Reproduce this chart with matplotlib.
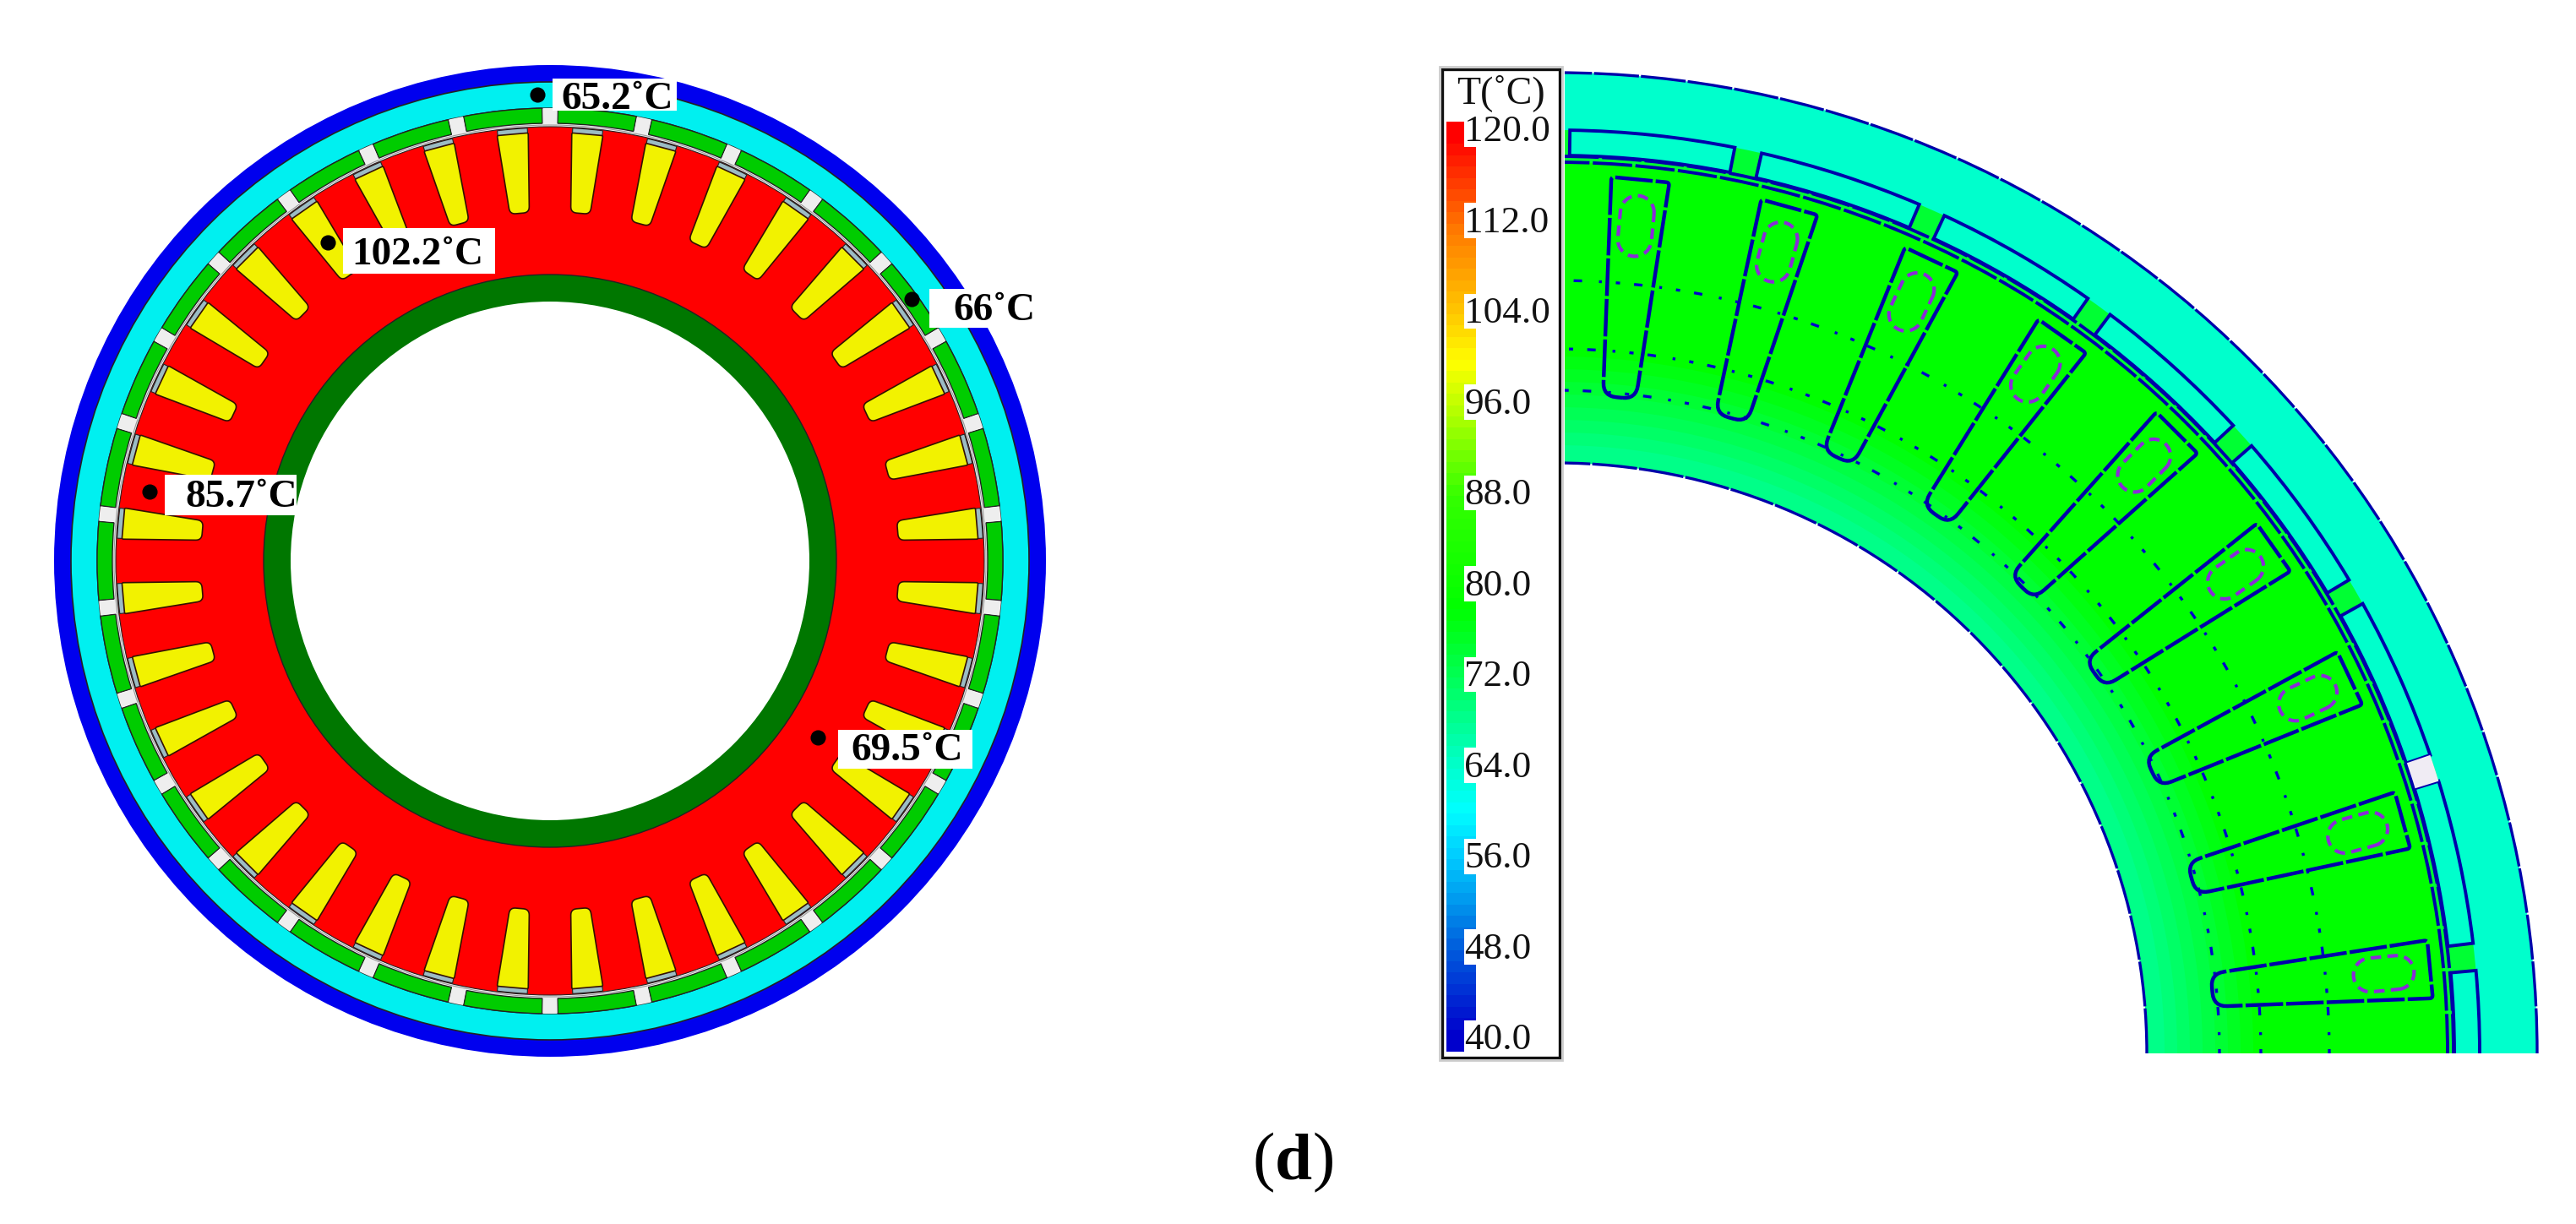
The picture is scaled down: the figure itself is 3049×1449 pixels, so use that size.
import matplotlib
matplotlib.use("Agg")
import matplotlib.pyplot as plt
import numpy as np
from matplotlib.colors import LinearSegmentedColormap
from matplotlib.patches import Arc, Circle, Polygon, Rectangle, Wedge

plt.rcParams["font.family"] = ["Liberation Serif", "DejaVu Serif"]

# temperature scale
tick_temps = [120, 112, 104, 96, 88, 80, 72, 64, 56, 48, 40]
stop_temps = [40, 48, 52, 56, 60, 64, 72, 78, 88, 96, 100, 104, 112, 120]
stop_colors = ["#0000CC", "#0060DD", "#0099EE", "#00CCFF", "#00FFFF", "#00FFCC", "#00FF55", "#00FF00",
               "#33FF00", "#BBFF00", "#FFFF00", "#FFCC00", "#FF7700", "#FF0000"]

# left panel, temperature probes (pixels)
probe_x = [636, 388, 1079, 177, 968]
probe_y = [112, 287, 354, 582, 873]
probe_text = ["65.2˚C", "102.2˚C", "66˚C", "85.7˚C", "69.5˚C"]
text_x = [664, 416, 1128, 219, 1007]
text_y = [129, 313, 379, 600, 900]
box_x = [654, 406, 1100, 195, 992]
box_y = [93, 270, 342, 562, 864]
box_w = [147, 180, 80, 156, 159]
box_h = [38, 54, 46, 48, 46]

# left panel radii (pixels)
r_blue, r_cyan, r_seg_out, r_seg_in, r_red = 587, 567, 536, 518, 514
r_ring_out, r_ring_in = 339, 307
slot_r0, slot_r1 = 413, 507
slot_angles = np.arange(5, 360, 10)
gap_angles = np.arange(6, 366, 12)

# right panel radii (pixels)
rr_outer, rr_seg_out, rr_seg_in, rr_rotor, rr_inner = 1161, 1093, 1063, 1055, 699
rr_dots = [785, 834, 915]
rr_slot0, rr_slot1 = 780, 1039
rr_slot_angles = [5.5, 15.4, 25.3, 35.2, 45, 54.8, 64.7, 74.6, 84.5]
rr_gap_angles = [6, 18, 30, 42, 54, 66, 78, 90]
rr_grad = [1055, 825, 810, 795, 780, 765, 750, 735, 720]
rr_grad_col = ["#00FF00", "#00FF11", "#00FF22", "#00FF33", "#00FF44", "#00FF55", "#00FF66", "#00FF77", "#00FF88"]


def slot_outline(cx, cy, ang, r0, r1, w0, w1, rc0, rc1):
    # tapered slot with rounded corners
    corners = [(r0, -w0, rc0), (r1, -w1, rc1), (r1, w1, rc1), (r0, w0, rc0)]
    pts = []
    n = len(corners)
    for i in range(n):
        p = np.array(corners[i][:2], float)
        a = np.array(corners[i - 1][:2], float)
        b = np.array(corners[(i + 1) % n][:2], float)
        rc = corners[i][2]
        p0 = p + (a - p) / np.linalg.norm(a - p) * rc
        p2 = p + (b - p) / np.linalg.norm(b - p) * rc
        for t in np.linspace(0, 1, 8):
            pts.append((1 - t) ** 2 * p0 + 2 * t * (1 - t) * p + t ** 2 * p2)
    pts = np.array(pts)
    t = np.radians(ang)
    x = cx + pts[:, 0] * np.cos(t) - pts[:, 1] * np.sin(t)
    y = cy + pts[:, 0] * np.sin(t) + pts[:, 1] * np.cos(t)
    return np.column_stack([x, y])


W, H = 3049, 1449
fig = plt.figure(figsize=(W / 100, H / 100), dpi=100, facecolor="white")

# left panel
ax = fig.add_axes([0, 0, 1690 / W, 1])
ax.set_xlim(0, 1690)
ax.set_ylim(H, 0)
ax.axis("off")
CX, CY = 651, 664
edge = "#222222"
ax.add_patch(Circle((CX, CY), r_blue, fc="#0000EE", ec="none"))
ax.add_patch(Circle((CX, CY), r_cyan, fc="#00F0F0", ec=edge, lw=1.2))
ax.add_patch(Circle((CX, CY), r_seg_out, fc="white", ec=edge, lw=1))
for a in gap_angles:
    ax.add_patch(Wedge((CX, CY), r_seg_out, a + 1.0, a + 11.0, width=r_seg_out - r_seg_in, fc="#00CC00", ec=edge, lw=1))
    ax.add_patch(Wedge((CX, CY), r_seg_out, a - 0.9, a + 0.9, width=r_seg_out - r_red, fc="#EEEEEE", ec="none"))
ax.add_patch(Circle((CX, CY), r_red + 2, fc="none", ec="#999999", lw=0.8))
ax.add_patch(Circle((CX, CY), r_red, fc="#FF0000", ec=edge, lw=0.8))
for a in slot_angles:
    ax.add_patch(Wedge((CX, CY), slot_r1 + 6, a - 2.0, a + 2.0, width=8, fc="#9CBCC4", ec=edge, lw=0.8))
    ax.add_patch(Polygon(slot_outline(CX, CY, a, slot_r0, slot_r1, 11.5, 18.5, 7, 2), fc="#F2F200", ec="#331100", lw=1.2))
ax.add_patch(Circle((CX, CY), r_ring_out, fc="#007700", ec=edge, lw=1))
ax.add_patch(Circle((CX, CY), r_ring_in, fc="white", ec="none"))

for i in range(len(probe_text)):
    ax.add_patch(Rectangle((box_x[i], box_y[i]), box_w[i], box_h[i], fc="white", ec="none"))
    ax.text(text_x[i], text_y[i], probe_text[i], fontsize=34, fontweight="bold", ha="left", va="baseline")
ax.scatter(probe_x, probe_y, s=170, c="black", linewidths=0, zorder=5)

# colour bar
fig.add_artist(Rectangle((1704 / W, 1 - 1255 / H), 145 / W, 1176 / H, transform=fig.transFigure, fc="none", ec="#CCCCCC", lw=2))
cb = fig.add_axes([1707 / W, 1 - 1252 / H, 139 / W, 1170 / H])
cb.set_xlim(1707, 1846)
cb.set_ylim(40 - 24 / 13.44, 120 + 71 / 13.44)
cb.set_xticks([])
cb.set_yticks([])
for s in cb.spines.values():
    s.set_linewidth(2.4)
    s.set_color("#111111")
cmap = LinearSegmentedColormap.from_list("temp", [((t - 40) / 80, c) for t, c in zip(stop_temps, stop_colors)], N=80)
edges = np.arange(38.7, 120.8, 1.0)
cb.pcolormesh([1712, 1747], edges, (edges[:-1] + 0.5).reshape(-1, 1), cmap=cmap, vmin=40, vmax=120)
for t in tick_temps:
    cb.add_patch(Rectangle((1733, t - 1.6), 40, 3.1, fc="white", ec="none", zorder=3))
    cb.text(1733, t - 0.25, "%.1f" % t, fontsize=32.5, ha="left", va="center", color="#111111", zorder=4)
cb.add_patch(Rectangle((1733, 120), 40, 1.5, fc="white", ec="none", zorder=3))
cb.text(1776.5, 120 + 43 / 13.44, "T(˚C)", fontsize=33, ha="center", va="center", color="#111111")

# right panel
ar = fig.add_axes([1852 / W, 1 - 1247 / H, (W - 1852) / W, (1247 - 70) / H])
ar.set_xlim(1852 - 1842, W - 1842)
ar.set_ylim(0, 1247 - 70)
ar.axis("off")
line = "#0000AA"
ar.add_patch(Wedge((0, 0), rr_outer, 0, 90, fc="#00FFCC", ec="none"))
ar.add_patch(Wedge((0, 0), rr_seg_out, 0, 90, fc="#00FF33", ec="none"))
for r, c in zip(rr_grad, rr_grad_col):
    ar.add_patch(Wedge((0, 0), r, 0, 90, fc=c, ec="none"))
ar.add_patch(Circle((0, 0), rr_inner, fc="white", ec="none"))
for a in rr_gap_angles:
    ar.add_patch(Wedge((0, 0), rr_seg_out, a + 0.85, a + 11.15, width=rr_seg_out - rr_seg_in, fc="#00FFCC", ec=line, lw=2.8))
ar.add_patch(Wedge((0, 0), rr_seg_out, -5, 5.15, width=rr_seg_out - rr_seg_in, fc="#00FFCC", ec=line, lw=2.8))
ar.add_patch(Wedge((0, 0), rr_seg_out, 17.15, 18.85, width=rr_seg_out - rr_seg_in, fc="#F0ECF4", ec="none"))
for r in [rr_outer, rr_inner]:
    ar.add_patch(Arc((0, 0), 2 * r, 2 * r, theta1=0, theta2=90, ec=line, lw=2.4, ls=(0, (16, 0.7))))
for r in [rr_rotor, rr_seg_in - 1]:
    ar.add_patch(Arc((0, 0), 2 * r, 2 * r, theta1=0, theta2=90, ec=line, lw=2.8, ls=(0, (12, 1))))
for r in rr_dots:
    ar.add_patch(Arc((0, 0), 2 * r, 2 * r, theta1=0, theta2=90, ec="#0000CC", lw=2.4, ls=(0, (1.5, 5, 1, 6, 3, 5))))
for a in rr_slot_angles:
    ar.add_patch(Polygon(slot_outline(0, 0, a, rr_slot0, rr_slot1, 19.5, 34.5, 16, 4), fill=False, ec=line, lw=3.2, ls=(0, (10, 0.8))))
    # winding marks
    th = np.linspace(-np.pi / 2, np.pi / 2, 20)
    lr = np.concatenate([1000 + 20 * np.cos(th), 968 - 20 * np.cos(th)])
    lw_ = np.concatenate([20 * np.sin(th), -20 * np.sin(th)])
    lr = np.append(lr, lr[0])
    lw_ = np.append(lw_, lw_[0])
    t = np.radians(a)
    ar.plot(lr * np.cos(t) - lw_ * np.sin(t), lr * np.sin(t) + lw_ * np.cos(t), color="#8A2BD8", lw=3, ls=(0, (3, 1.8)))

# caption
fig.text(1482 / W, 1 - 1395 / H, "(", fontsize=57, ha="left", va="baseline")
fig.text(1509 / W, 1 - 1395 / H, "d", fontsize=57, fontweight="bold", ha="left", va="baseline")
fig.text(1553 / W, 1 - 1395 / H, ")", fontsize=57, ha="left", va="baseline")

plt.savefig("out.png", dpi=100)
